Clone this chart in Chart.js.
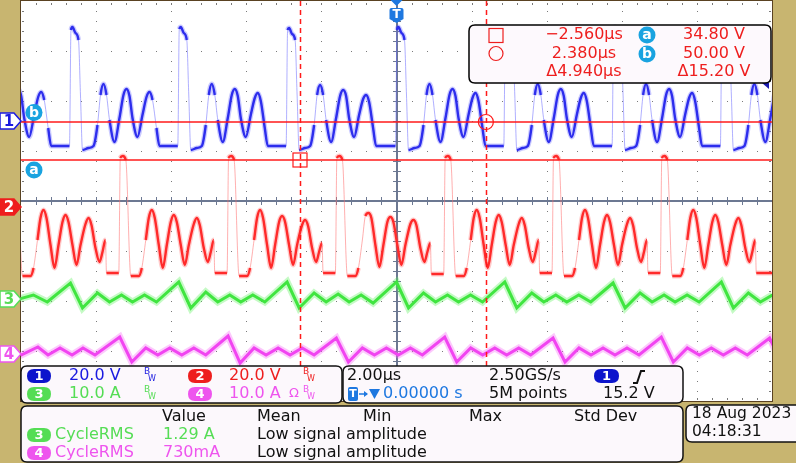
<!DOCTYPE html>
<html><head><meta charset="utf-8">
<script src="https://cdn.jsdelivr.net/npm/chart.js@4"></script>
<style>html,body{margin:0;padding:0;background:#c8b570;}canvas{display:block}</style>
</head><body>
<canvas id="c" width="796" height="463"></canvas>
<script>
// ---- data (time in µs, vertical position in divisions) ----
const ch1Time = [
 -10.155,-10.075,-9.995,-9.915,-9.782,-9.649,-9.542,-9.462,-9.382,-9.276,-9.196,
 -8.709,-8.669,-8.629,-8.549,-8.469,-8.416,-8.362,-8.203,-8.069,-7.963,-7.883,-7.803,-7.723,-7.643,-7.510,-7.377,-7.271,-7.191,-7.111,-7.031,-6.898,-6.765,-6.658,-6.578,-6.498,-6.392,-6.312,
 -5.825,-5.785,-5.745,-5.665,-5.585,-5.532,-5.478,-5.319,-5.185,-5.079,-4.999,-4.919,-4.839,-4.759,-4.626,-4.493,-4.387,-4.307,-4.227,-4.147,-4.014,-3.881,-3.774,-3.694,-3.614,-3.508,-3.428,
 -2.940,-2.900,-2.860,-2.780,-2.700,-2.647,-2.593,-2.434,-2.300,-2.194,-2.114,-2.034,-1.954,-1.874,-1.741,-1.608,-1.502,-1.422,-1.342,-1.262,-1.129,-0.996,-0.889,-0.809,-0.729,-0.623,-0.543,
 -0.027,0.013,0.053,0.133,0.213,0.266,0.320,0.479,0.613,0.719,0.799,0.879,0.959,1.039,1.172,1.305,1.411,1.491,1.571,1.651,1.784,1.917,2.024,2.104,2.184,2.290,2.370,
 2.857,2.897,2.937,3.017,3.097,3.150,3.204,3.363,3.497,3.603,3.683,3.763,3.843,3.923,4.056,4.189,4.295,4.375,4.455,4.535,4.668,4.801,4.908,4.988,5.068,5.174,5.254,
 5.741,5.781,5.821,5.901,5.981,6.034,6.088,6.247,6.381,6.487,6.567,6.647,6.727,6.807,6.940,7.073,7.179,7.259,7.339,7.419,7.552,7.685,7.792,7.872,7.952,8.058,8.138,
 8.625,8.665,8.705,8.785,8.865,8.918,8.972,9.131,9.265,9.371,9.451,9.531,9.611,9.691,9.824,9.957,10.063
];
const ch1Div = [
 2.12,2.24,2.10,1.66,1.28,1.72,2.08,2.18,2.02,1.46,1.10,
 1.10,3.42,3.48,3.36,3.22,2.12,1.02,1.06,1.10,1.52,2.12,2.34,2.12,1.62,1.18,1.66,2.12,2.24,2.10,1.66,1.28,1.72,2.08,2.18,2.02,1.46,1.10,
 1.10,3.44,3.48,3.36,3.22,2.12,1.02,1.06,1.10,1.52,2.12,2.34,2.12,1.62,1.18,1.66,2.12,2.24,2.10,1.66,1.28,1.72,2.06,2.16,2.00,1.46,1.10,
 1.10,3.42,3.46,3.34,3.22,2.12,1.02,1.06,1.10,1.52,2.12,2.32,2.12,1.62,1.18,1.66,2.10,2.22,2.10,1.66,1.28,1.72,2.04,2.12,1.98,1.46,1.10,
 1.10,3.42,3.48,3.36,3.22,2.12,1.02,1.06,1.10,1.52,2.12,2.34,2.12,1.62,1.18,1.66,2.12,2.24,2.10,1.66,1.28,1.72,2.06,2.16,2.00,1.46,1.10,
 1.10,3.42,3.48,3.36,3.22,2.12,1.02,1.06,1.10,1.52,2.12,2.34,2.12,1.62,1.18,1.66,2.12,2.24,2.10,1.66,1.28,1.72,2.06,2.16,2.00,1.46,1.10,
 1.10,3.42,3.48,3.36,3.22,2.12,1.02,1.06,1.10,1.52,2.12,2.34,2.12,1.62,1.18,1.66,2.12,2.24,2.10,1.66,1.28,1.72,2.06,2.16,2.00,1.46,1.10,
 1.10,3.42,3.48,3.36,3.22,2.12,1.02,1.06,1.10,1.52,2.12,2.34,2.12,1.62,1.18,1.66,2.12
];
const ch2Time = [
 -10.093,-9.960,-9.747,-9.667,-9.561,-9.481,-9.401,-9.321,-9.214,-9.108,-9.001,-8.895,-8.815,-8.735,-8.629,-8.522,-8.415,-8.282,-8.202,-8.123,-8.016,-7.909,-7.830,-7.750,-7.723,
 -7.396,-7.356,-7.289,-7.209,-7.076,-6.863,-6.783,-6.677,-6.597,-6.517,-6.437,-6.330,-6.224,-6.117,-6.011,-5.931,-5.851,-5.745,-5.638,-5.531,-5.398,-5.318,-5.239,-5.132,-5.025,-4.946,-4.866,-4.839,
 -4.512,-4.472,-4.405,-4.325,-4.192,-3.979,-3.899,-3.793,-3.713,-3.633,-3.553,-3.446,-3.340,-3.233,-3.127,-3.047,-2.967,-2.861,-2.754,-2.647,-2.514,-2.434,-2.355,-2.248,-2.141,-2.062,-1.982,-1.955,
 -1.628,-1.588,-1.521,-1.441,-1.308,-1.095,-1.015,-0.909,-0.829,-0.749,-0.669,-0.562,-0.456,-0.349,-0.243,-0.163,-0.083,0.023,0.130,0.237,0.370,0.450,0.529,0.636,0.743,0.822,0.902,0.929,
 1.257,1.297,1.364,1.444,1.577,1.790,1.870,1.976,2.056,2.136,2.216,2.323,2.429,2.536,2.642,2.722,2.802,2.908,3.015,3.122,3.255,3.335,3.414,3.521,3.628,3.707,3.787,3.814,
 4.141,4.181,4.248,4.328,4.461,4.674,4.754,4.860,4.940,5.020,5.100,5.207,5.313,5.420,5.526,5.606,5.686,5.792,5.899,6.006,6.139,6.219,6.298,6.405,6.512,6.591,6.671,6.698,
 7.025,7.065,7.132,7.212,7.345,7.558,7.638,7.744,7.824,7.904,7.984,8.091,8.197,8.304,8.410,8.490,8.570,8.676,8.783,8.890,9.023,9.103,9.182,9.289,9.396,9.475,9.555,9.582,
 10.050
];
const ch2Div = [
 0.82,-1.50,-1.50,-1.34,-0.78,-0.34,-0.18,-0.34,-0.88,-1.34,-0.88,-0.42,-0.28,-0.42,-0.88,-1.28,-0.88,-0.46,-0.34,-0.48,-0.94,-1.22,-1.02,-0.78,-1.44,
 -1.44,0.86,0.90,0.82,-1.50,-1.50,-1.34,-0.78,-0.34,-0.18,-0.34,-0.88,-1.34,-0.88,-0.42,-0.28,-0.42,-0.88,-1.28,-0.88,-0.46,-0.34,-0.48,-0.94,-1.22,-1.02,-0.78,-1.44,
 -1.44,0.86,0.90,0.82,-1.50,-1.50,-1.34,-0.78,-0.34,-0.18,-0.34,-0.88,-1.34,-0.88,-0.42,-0.30,-0.42,-0.88,-1.28,-0.88,-0.48,-0.38,-0.50,-0.94,-1.22,-1.02,-0.84,-1.44,
 -1.44,0.86,0.90,0.82,-1.50,-1.50,-1.34,-0.78,-0.30,-0.24,-0.34,-0.88,-1.32,-0.88,-0.42,-0.32,-0.42,-0.88,-1.28,-0.88,-0.46,-0.38,-0.48,-0.94,-1.22,-1.02,-0.84,-1.46,
 -1.46,0.86,0.90,0.82,-1.50,-1.50,-1.34,-0.78,-0.34,-0.18,-0.34,-0.88,-1.34,-0.88,-0.42,-0.28,-0.42,-0.88,-1.28,-0.88,-0.46,-0.34,-0.48,-0.94,-1.22,-1.02,-0.78,-1.44,
 -1.44,0.86,0.90,0.82,-1.50,-1.50,-1.34,-0.78,-0.34,-0.18,-0.34,-0.88,-1.34,-0.88,-0.42,-0.28,-0.42,-0.88,-1.28,-0.88,-0.46,-0.34,-0.48,-0.94,-1.22,-1.02,-0.78,-1.44,
 -1.44,0.86,0.90,0.82,-1.50,-1.50,-1.34,-0.78,-0.34,-0.18,-0.34,-0.88,-1.34,-0.88,-0.42,-0.28,-0.42,-0.88,-1.28,-0.88,-0.46,-0.34,-0.48,-0.94,-1.22,-1.02,-0.78,-1.44,
 -1.44
];
const ch3Time = [-10.05,-9.67,-9.30,
 -8.682,-8.362,-7.963,-7.643,-7.324,-7.031,-6.711,-6.392,
 -5.798,-5.478,-5.079,-4.759,-4.440,-4.147,-3.827,-3.508,
 -2.913,-2.593,-2.194,-1.874,-1.555,-1.262,-0.942,-0.623,
 0.000,0.320,0.719,1.039,1.358,1.651,1.971,2.290,
 2.884,3.204,3.603,3.923,4.242,4.535,4.855,5.174,
 5.768,6.088,6.487,6.807,7.126,7.419,7.739,8.058,
 8.652,8.972,9.371,9.691,10.010];
const ch3Div = [-1.96,-1.88,-2.02,
 -1.64,-2.14,-1.84,-2.02,-1.88,-2.02,-1.88,-2.02,
 -1.62,-2.14,-1.82,-2.02,-1.88,-2.02,-1.88,-2.02,
 -1.62,-2.14,-1.84,-2.02,-1.86,-2.02,-1.88,-2.04,
 -1.62,-2.14,-1.84,-2.02,-1.88,-2.02,-1.88,-2.02,
 -1.62,-2.14,-1.84,-2.02,-1.88,-2.02,-1.88,-2.02,
 -1.64,-2.14,-1.84,-2.02,-1.88,-2.02,-1.88,-2.02,
 -1.62,-2.14,-1.84,-2.02,-1.88];
const ch4Time = [-10.05,-9.55,-9.28,-8.96,-8.64,-8.35,-8.03,
 -7.369,-7.049,-6.677,-6.357,-6.037,-5.718,-5.398,-5.079,
 -4.485,-4.165,-3.793,-3.473,-3.153,-2.834,-2.514,-2.195,
 -1.601,-1.281,-0.909,-0.589,-0.269,0.050,0.370,0.689,
 1.284,1.604,1.976,2.296,2.616,2.935,3.255,3.574,
 4.168,4.488,4.860,5.180,5.500,5.819,6.139,6.458,
 7.052,7.372,7.744,8.064,8.384,8.703,9.023,9.342,
 9.936,10.100];
const ch4Div = [-3.10,-2.92,-3.08,-2.94,-3.08,-2.94,-3.08,
 -2.72,-3.22,-2.94,-3.08,-2.94,-3.08,-2.94,-3.08,
 -2.70,-3.24,-2.94,-3.08,-2.94,-3.08,-2.94,-3.08,
 -2.74,-3.22,-2.94,-3.08,-2.94,-3.08,-2.94,-3.08,
 -2.72,-3.22,-2.94,-3.08,-2.94,-3.08,-2.94,-3.08,
 -2.74,-3.22,-2.94,-3.08,-2.94,-3.08,-2.94,-3.08,
 -2.72,-3.22,-2.94,-3.08,-2.94,-3.08,-2.94,-3.08,
 -2.74,-3.00];

// channel reference markers (div), cursors
const chRef = [1.60, -0.12, -1.96, -3.06];
const cursorTimes = [-2.560, 2.380];      // µs
const cursorLevels = [0.82, 1.58];        // div  (a = 34.80 V, b = 50.00 V)
const cursorTimeText = ['\u22122.560\u00b5s', '2.380\u00b5s', '\u03944.940\u00b5s'];
const cursorLevelText = ['34.80 V', '50.00 V', '\u039415.20 V'];
const chScaleText = ['20.0 V', '20.0 V', '10.0 A', '10.0 A'];
const measHeaders = ['Value', 'Mean', 'Min', 'Max', 'Std Dev'];
const measNames = ['CycleRMS', 'CycleRMS'];
const measValues = ['1.29 A', '730mA'];
const measMean = ['Low signal amplitude', 'Low signal amplitude'];

// ---- helpers ----
const F = '"DejaVu Sans", sans-serif';
function pts(T, V) { return T.map((t, i) => ({ x: t, y: V[i] })); }
function steep(c) { const dx = Math.abs(c.p1.x - c.p0.x), dy = Math.abs(c.p1.y - c.p0.y); return dy > 5 * dx + 8; }
function trace(T, V, core, halo, faint, cw, hw, mono) {
  const base = { showLine: true, pointRadius: 0, pointHoverRadius: 0, fill: false };
  if (mono) base.cubicInterpolationMode = 'monotone';
  return [
    Object.assign({}, base, { data: pts(T, V), borderColor: halo, borderWidth: hw,
      segment: { borderColor: c => steep(c) ? 'rgba(0,0,0,0)' : undefined } }),
    Object.assign({}, base, { data: pts(T, V), borderColor: core, borderWidth: cw,
      segment: { borderColor: c => steep(c) ? faint : undefined, borderWidth: c => steep(c) ? 1 : undefined } })
  ];
}
function rr(C, x, y, w, h, r) {
  C.beginPath(); C.moveTo(x + r, y); C.lineTo(x + w - r, y); C.quadraticCurveTo(x + w, y, x + w, y + r);
  C.lineTo(x + w, y + h - r); C.quadraticCurveTo(x + w, y + h, x + w - r, y + h); C.lineTo(x + r, y + h);
  C.quadraticCurveTo(x, y + h, x, y + h - r); C.lineTo(x, y + r); C.quadraticCurveTo(x, y, x + r, y); C.closePath();
}
function T(C, s, x, y, col, font, al) { C.fillStyle = col; C.font = font; C.textAlign = al || 'left'; C.textBaseline = 'middle'; C.fillText(s, x, y); }
function pill(C, x, y, w, fill, s) { rr(C, x, y - 7, w, 14, 7); C.fillStyle = fill; C.fill(); T(C, s, x + w / 2, y + 0.5, '#fff', 'bold 13px ' + F, 'center'); }
function circ(C, x, y, r, fill, s) { C.beginPath(); C.arc(x, y, r, 0, Math.PI * 2); C.fillStyle = fill; C.fill(); T(C, s, x, y + 0.5, '#fff', 'bold 14px ' + F, 'center'); }
function bw(C, x, y, col) { T(C, 'B', x, y - 4, col, '9px ' + F); T(C, 'W', x + 4, y + 3, col, '8px ' + F); }

const BLUE = '#1a1ae0', RED = '#ee1e1e', GREEN = '#55dd55', MAG = '#ee55ee', CYAN = '#19a3e0', TBLUE = '#1e78e0';

const scopePlugin = {
  id: 'scope',
  beforeDraw(chart) {
    const C = chart.ctx, A = chart.chartArea, X = v => chart.scales.x.getPixelForValue(v), Y = v => chart.scales.y.getPixelForValue(v);
    C.save();
    C.fillStyle = '#c8b570'; C.fillRect(0, 0, chart.width, chart.height);
    C.fillStyle = '#ffffff'; C.fillRect(A.left, A.top, A.right - A.left, A.bottom - A.top);
    C.fillStyle = '#7a7a7a';
    for (let i = -4; i <= 4; i++) { if (i === 0) continue; const px = Math.round(X(i * 2)); for (let j = 1; j < 40; j++) C.fillRect(px, Math.round(Y(-4 + j * 0.2)), 1, 1); }
    for (let k = -3; k <= 3; k++) { if (k === 0) continue; const py = Math.round(Y(k)); for (let j = 1; j < 50; j++) C.fillRect(Math.round(X(-10 + j * 0.4)), py, 1, 1); }
    for (let j = 1; j < 40; j++) { const py = Math.round(Y(-4 + j * 0.2)); C.fillRect(A.left + 1, py, 2, 1); C.fillRect(A.right - 3, py, 2, 1); }
    for (let j = 1; j < 50; j++) { const px = Math.round(X(-10 + j * 0.4)); C.fillRect(px, A.top + 2, 1, 2); C.fillRect(px, A.bottom - 3, 1, 2); }
    // center axes
    C.fillStyle = '#6c7892';
    const cy = Math.round(Y(0)), cx = Math.round(X(0));
    C.fillRect(A.left, cy - 1, A.right - A.left, 2);
    C.fillRect(cx - 1, A.top, 2, A.bottom - A.top);
    for (let j = 1; j < 50; j++) C.fillRect(Math.round(X(-10 + j * 0.4)), cy - 4, 1, 8);
    for (let j = 1; j < 40; j++) C.fillRect(cx - 4, Math.round(Y(-4 + j * 0.2)), 8, 1);
    // border
    C.fillStyle = '#5a4222';
    C.fillRect(A.left - 1, 0, 1, A.bottom + 1); C.fillRect(A.left - 1, 0, A.right - A.left + 2, 1);
    C.fillRect(A.right, 0, 1, A.bottom + 1); C.fillRect(A.left - 1, A.bottom, A.right - A.left + 2, 1);
    C.restore();
  },
  afterDraw(chart) {
    const C = chart.ctx, A = chart.chartArea, X = v => chart.scales.x.getPixelForValue(v), Y = v => chart.scales.y.getPixelForValue(v);
    C.save();
    // cursors
    C.strokeStyle = '#ff1a1a'; C.lineWidth = 1.5;
    cursorLevels.forEach(l => { const py = Math.round(Y(l)); C.beginPath(); C.moveTo(A.left, py); C.lineTo(A.right, py); C.stroke(); });
    C.setLineDash([5, 4]);
    cursorTimes.forEach(t => { const px = Math.round(X(t)) + 0.5; C.beginPath(); C.moveTo(px, A.top); C.lineTo(px, A.bottom); C.stroke(); });
    C.setLineDash([]);
    C.lineWidth = 1.2;
    C.strokeRect(Math.round(X(cursorTimes[0])) - 7, Math.round(Y(cursorLevels[0])) - 7, 14, 14);
    C.beginPath(); C.arc(X(cursorTimes[1]), Y(cursorLevels[1]), 7.5, 0, Math.PI * 2); C.stroke();
    // cursor labels a / b
    circ(C, 34, Y(cursorLevels[1]) - 9.5, 8.5, CYAN, 'b');
    circ(C, 34, Y(cursorLevels[0]) + 10, 8.5, CYAN, 'a');
    // trigger marker
    const tx = X(0);
    C.fillStyle = TBLUE;
    C.beginPath(); C.moveTo(tx - 6, 0); C.lineTo(tx + 6, 0); C.lineTo(tx, 6); C.closePath(); C.fill();
    C.beginPath(); C.moveTo(tx - 7, 10); C.quadraticCurveTo(tx - 7, 8, tx - 5, 8); C.lineTo(tx + 5, 8); C.quadraticCurveTo(tx + 7, 8, tx + 7, 10);
    C.lineTo(tx + 7, 19); C.lineTo(tx, 23); C.lineTo(tx - 7, 19); C.closePath(); C.fill();
    T(C, 'T', tx, 15, '#fff', 'bold 12px ' + F, 'center');
    // trigger level arrow on right
    C.fillStyle = '#1a1ab0';
    C.beginPath(); C.moveTo(762, 83); C.lineTo(769, 83); C.lineTo(769, 89); C.closePath(); C.fill();
    // left channel markers
    const mk = (yc, fill, stroke, s, tc) => {
      C.beginPath(); C.moveTo(0, yc - 8); C.lineTo(14, yc - 8); C.lineTo(21, yc); C.lineTo(14, yc + 8); C.lineTo(0, yc + 8); C.closePath();
      C.fillStyle = fill; C.fill(); C.strokeStyle = stroke; C.lineWidth = 1.5; C.stroke();
      T(C, s, 9, yc + 1, tc, 'bold 15px ' + F, 'center');
    };
    mk(Y(chRef[0]), '#ffffff', BLUE, '1', BLUE);
    mk(Y(chRef[1]), RED, RED, '2', '#ffffff');
    mk(Y(chRef[2]), '#ffffff', GREEN, '3', GREEN);
    mk(Y(chRef[3]), '#ffffff', MAG, '4', MAG);
    // cursor readout box
    rr(C, 469, 25, 302, 58, 6); C.fillStyle = '#fdf9fd'; C.fill(); C.strokeStyle = '#000'; C.lineWidth = 1.5; C.stroke();
    C.strokeStyle = RED; C.lineWidth = 1.2;
    C.strokeRect(489, 28.5, 14, 14);
    C.beginPath(); C.arc(496, 53.5, 7, 0, Math.PI * 2); C.stroke();
    const F16 = '16px ' + F;
    [35, 54, 72].forEach((yy, i) => { T(C, cursorTimeText[i], 584, yy, RED, F16, 'center'); T(C, cursorLevelText[i], 714, yy, RED, F16, 'center'); });
    circ(C, 647, 35, 8.5, CYAN, 'a'); circ(C, 647, 54, 8.5, CYAN, 'b');
    // bottom panels
    const panel = (x, y, w, h) => { rr(C, x, y, w, h, 6); C.fillStyle = '#fcf8fc'; C.fill(); C.strokeStyle = '#111'; C.lineWidth = 1.5; C.stroke(); };
    panel(21, 366, 321, 37); panel(343, 366, 340, 37); panel(21, 406, 662, 56); panel(686, 405, 130, 37);
    // channel scales
    pill(C, 27, 376, 24, '#0c14cc', '1'); T(C, chScaleText[0], 69, 376, BLUE, F16); bw(C, 144, 376, BLUE);
    pill(C, 188, 376, 24, RED, '2'); T(C, chScaleText[1], 229, 376, RED, F16); bw(C, 303, 376, RED);
    pill(C, 27, 394, 24, GREEN, '3'); T(C, chScaleText[2], 69, 394, GREEN, F16); bw(C, 144, 394, GREEN);
    pill(C, 188, 394, 24, MAG, '4'); T(C, chScaleText[3], 229, 394, MAG, F16); T(C, '\u03a9', 289, 394, MAG, '13px ' + F); bw(C, 303, 394, MAG);
    // timebase / trigger
    T(C, '2.00\u00b5s', 347, 376, '#111', F16);
    T(C, '2.50GS/s', 489, 376, '#111', F16);
    pill(C, 594, 376, 25, '#0c14cc', '1');
    C.strokeStyle = '#111'; C.lineWidth = 2; C.beginPath(); C.moveTo(633, 383); C.lineTo(637, 383); C.lineTo(641, 371); C.lineTo(645, 371); C.stroke();
    rr(C, 348, 387, 10, 14, 2); C.fillStyle = TBLUE; C.fill(); T(C, 'T', 353, 394.5, '#fff', 'bold 11px ' + F, 'center');
    C.strokeStyle = TBLUE; C.lineWidth = 1.5; C.beginPath(); C.moveTo(359, 394); C.lineTo(367, 394); C.stroke();
    C.fillStyle = TBLUE; C.beginPath(); C.moveTo(364, 391); C.lineTo(368, 394); C.lineTo(364, 397); C.closePath(); C.fill();
    C.beginPath(); C.moveTo(369, 389); C.lineTo(380, 389); C.lineTo(374.5, 399); C.closePath(); C.fill();
    T(C, '0.00000 s', 383, 394, TBLUE, F16);
    T(C, '5M points', 489, 394, '#111', F16);
    T(C, '15.2 V', 603, 394, '#111', F16);
    // measurements
    const hx = [162, 257, 363, 469, 574];
    measHeaders.forEach((h, i) => T(C, h, hx[i], 417, '#111', F16));
    pill(C, 27, 435, 24, GREEN, '3'); T(C, measNames[0], 55, 435, GREEN, F16); T(C, measValues[0], 163, 435, GREEN, F16); T(C, measMean[0], 257, 435, '#111', F16);
    pill(C, 27, 453, 24, MAG, '4'); T(C, measNames[1], 55, 453, MAG, F16); T(C, measValues[1], 163, 453, MAG, F16); T(C, measMean[1], 257, 453, '#111', F16);
    // date
    T(C, '18 Aug 2023', 692, 414, '#111', '15.5px ' + F);
    T(C, '04:18:31', 692, 432, '#111', '15.5px ' + F);
    C.restore();
  }
};

const datasets = [].concat(
  trace(ch2Time, ch2Div, '#ff2020', 'rgba(255,70,70,0.28)', 'rgba(255,110,110,0.55)', 2.4, 5, true),
  trace(ch1Time, ch1Div, '#2424e6', 'rgba(70,70,255,0.28)', 'rgba(110,110,255,0.55)', 2.4, 5, true),
  trace(ch3Time, ch3Div, '#33df33', 'rgba(90,240,90,0.35)', 'rgba(90,240,90,0.5)', 3, 7, false),
  trace(ch4Time, ch4Div, '#ee33ee', 'rgba(245,100,245,0.35)', 'rgba(245,100,245,0.5)', 3, 7, false)
);

new Chart(document.getElementById('c'), {
  type: 'scatter',
  data: { datasets },
  options: {
    responsive: false, animation: false, events: [],
    layout: { padding: { left: 21, right: 24, top: 1, bottom: 62 } },
    plugins: { legend: { display: false }, tooltip: { enabled: false } },
    scales: {
      x: { type: 'linear', min: -10, max: 10, display: false },
      y: { type: 'linear', min: -4, max: 4, display: false }
    }
  },
  plugins: [scopePlugin]
});
</script>
</body></html>
